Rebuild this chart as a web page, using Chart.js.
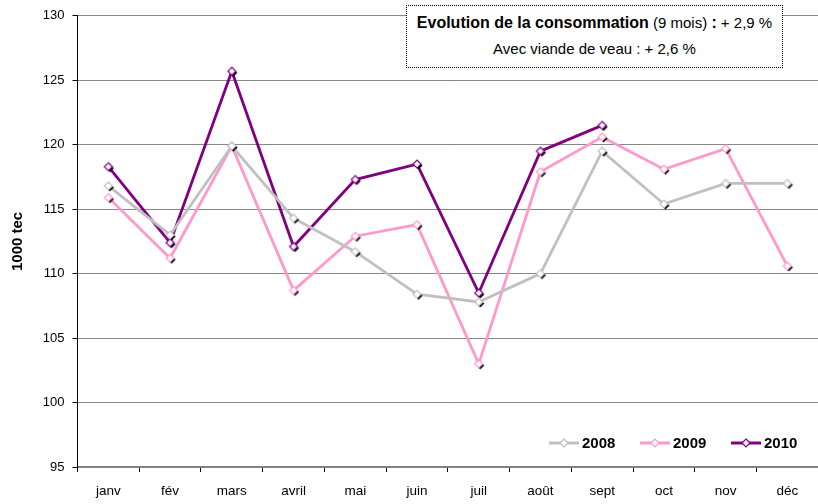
<!DOCTYPE html>
<html>
<head>
<meta charset="utf-8">
<script src="https://cdn.jsdelivr.net/npm/chart.js@4.4.0/dist/chart.umd.min.js"></script>
<style>
  html, body { margin: 0; padding: 0; background: #fff; overflow: hidden; }
  #wrap { position: relative; width: 826px; height: 504px; }
  #note {
    position: absolute; left: 406px; top: 5px; width: 375px; height: 61px;
    border: 1px dotted #000; background: #fff;
    font-family: "Liberation Sans", Arial, sans-serif; font-size: 15px; color: #000;
    text-align: center; white-space: nowrap;
  }
  #note b { font-size: 16px; }
  #note .l1 { position: absolute; left: 0; right: 0; top: 7px; line-height: 20px; }
  #note .l2 { position: absolute; left: 0; right: 0; top: 33px; line-height: 20px; }
</style>
</head>
<body>
<div id="wrap">
  <canvas id="chart" width="826" height="504"></canvas>
  <div id="note">
    <div class="l1"><b>Evolution de la consommation</b> (9 mois) <b>:</b> + 2,9 %</div>
    <div class="l2">Avec viande de veau : + 2,6 %</div>
  </div>
</div>
<script>
const months = ["janv", "fév", "mars", "avril", "mai", "juin", "juil", "août", "sept", "oct", "nov", "déc"];
const y2008 = [116.8, 113.0, 119.9, 114.3, 111.7, 108.4, 107.8, 110.0, 119.5, 115.4, 117.0, 117.0];
const y2009 = [115.9, 111.2, 119.9, 108.7, 112.9, 113.8, 103.0, 117.9, 120.6, 118.1, 119.7, 110.6];
const y2010 = [118.3, 112.4, 125.7, 112.1, 117.3, 118.5, 108.5, 119.5, 121.5, null, null, null];
const yTicks = [95, 100, 105, 110, 115, 120, 125, 130];

const FONT = "'Liberation Sans', Arial, sans-serif";

// diamond marker with a small black shadow, like the excel one
function marker(color) {
  const c = document.createElement('canvas');
  c.width = 14; c.height = 14;
  const g = c.getContext('2d');
  const d = (cx, cy, r) => {
    g.beginPath();
    g.moveTo(cx, cy - r); g.lineTo(cx + r, cy); g.lineTo(cx, cy + r); g.lineTo(cx - r, cy);
    g.closePath();
  };
  g.fillStyle = '#000';
  d(8.5, 8.5, 4); g.fill();
  d(7, 7, 4);
  g.fillStyle = '#fff'; g.fill();
  g.lineWidth = 1.2; g.strokeStyle = color; g.stroke();
  return c;
}

const series = [
  { label: "2008", data: y2008, color: "#c0c0c0" },
  { label: "2009", data: y2009, color: "#ff99cc" },
  { label: "2010", data: y2010, color: "#800080" }
];

const legendPos = [549, 640, 731];

const insideLegend = {
  id: 'insideLegend',
  afterDraw(chart) {
    const ctx = chart.ctx;
    ctx.save();
    series.forEach((s, i) => {
      const x = legendPos[i], y = 443;
      ctx.strokeStyle = s.color; ctx.lineWidth = 3;
      ctx.beginPath(); ctx.moveTo(x, y); ctx.lineTo(x + 30, y); ctx.stroke();
      ctx.beginPath();
      ctx.moveTo(x + 15, y - 4); ctx.lineTo(x + 19, y); ctx.lineTo(x + 15, y + 4); ctx.lineTo(x + 11, y);
      ctx.closePath();
      ctx.fillStyle = '#fff'; ctx.fill();
      ctx.lineWidth = 1.2; ctx.stroke();
      ctx.fillStyle = '#000';
      ctx.font = "bold 15px " + FONT;
      ctx.textBaseline = 'middle';
      ctx.fillText(s.label, x + 33, y + 1);
    });
    ctx.restore();
  }
};

new Chart(document.getElementById("chart"), {
  type: 'line',
  data: {
    labels: months,
    datasets: series.map(s => ({
      label: s.label,
      data: s.data,
      borderColor: s.color,
      backgroundColor: '#fff',
      borderWidth: 2.8,
      tension: 0,
      pointStyle: marker(s.color),
      pointRadius: 5,
      spanGaps: false
    }))
  },
  options: {
    responsive: false,
    animation: false,
    layout: { padding: { top: 15, right: 1, left: 0, bottom: 0 } },
    plugins: {
      legend: { display: false },
      tooltip: { enabled: false }
    },
    scales: {
      x: {
        offset: true,
        grid: {
          display: true, drawOnChartArea: false, offset: true,
          tickLength: 5, color: '#000', lineWidth: 1
        },
        border: { color: '#808080', width: 1.5 },
        ticks: { color: '#000', font: { family: FONT, size: 13.5 }, padding: 11, maxRotation: 0 },
        afterFit(scale) { scale.height = 37; }
      },
      y: {
        min: 95, max: 130,
        afterBuildTicks(scale) { scale.ticks = yTicks.map(v => ({ value: v })); },
        grid: {
          color: '#888', borderDash: [3, 3], tickLength: 5,
          tickColor: '#000', tickBorderDash: [], lineWidth: 1
        },
        border: { color: '#000', width: 1 },
        ticks: { color: '#000', font: { family: FONT, size: 13 }, padding: 8 },
        title: {
          display: true, text: '1000 tec', color: '#000',
          font: { family: FONT, size: 15, weight: 'bold' }, padding: { top: 9, bottom: 10 }
        },
        afterFit(scale) { scale.width = 77.5; }
      }
    }
  },
  plugins: [insideLegend]
});
</script>
</body>
</html>
